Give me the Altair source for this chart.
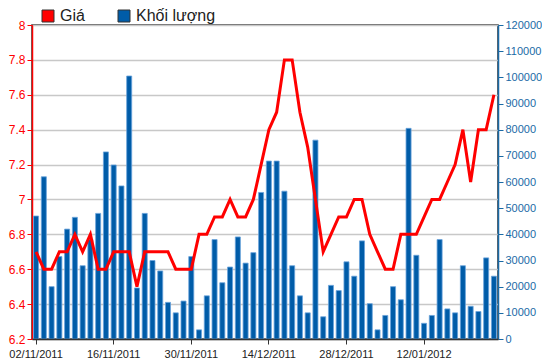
import altair as alt
import pandas as pd

dates = [
    "02/11/2011", "03/11/2011", "04/11/2011", "07/11/2011", "08/11/2011",
    "09/11/2011", "10/11/2011", "11/11/2011", "14/11/2011", "15/11/2011",
    "16/11/2011", "17/11/2011", "18/11/2011", "21/11/2011", "22/11/2011",
    "23/11/2011", "24/11/2011", "25/11/2011", "28/11/2011", "29/11/2011",
    "30/11/2011", "01/12/2011", "02/12/2011", "05/12/2011", "06/12/2011",
    "07/12/2011", "08/12/2011", "09/12/2011", "12/12/2011", "13/12/2011",
    "14/12/2011", "15/12/2011", "16/12/2011", "19/12/2011", "20/12/2011",
    "21/12/2011", "22/12/2011", "23/12/2011", "26/12/2011", "27/12/2011",
    "28/12/2011", "29/12/2011", "30/12/2011", "03/01/2012", "04/01/2012",
    "05/01/2012", "06/01/2012", "09/01/2012", "10/01/2012", "11/01/2012",
    "12/01/2012", "13/01/2012", "16/01/2012", "17/01/2012", "18/01/2012",
    "19/01/2012", "20/01/2012", "30/01/2012", "31/01/2012", "01/02/2012",
]

price = [
    6.7, 6.6, 6.6, 6.7, 6.7, 6.8, 6.7, 6.8, 6.6, 6.6,
    6.7, 6.7, 6.7, 6.5, 6.7, 6.7, 6.7, 6.7, 6.6, 6.6,
    6.6, 6.8, 6.8, 6.9, 6.9, 7.0, 6.9, 6.9, 7.0, 7.2,
    7.4, 7.5, 7.8, 7.8, 7.5, 7.3, 7.0, 6.7, 6.8, 6.9,
    6.9, 7.0, 7.0, 6.8, 6.7, 6.6, 6.6, 6.8, 6.8, 6.8,
    6.9, 7.0, 7.0, 7.1, 7.2, 7.4, 7.1, 7.4, 7.4, 7.6,
]

volume = [
    47000, 62000, 20000, 31500, 42000, 46500, 28000, 38000, 48000, 71500,
    66500, 58500, 100500, 19500, 48000, 30000, 26000, 14000, 10000, 14500,
    31500, 3500, 16500, 38000, 21500, 27500, 39000, 29000, 33000, 56000,
    68000, 68000, 56500, 28000, 16500, 10000, 76000, 8500, 20500, 18500,
    29500, 24000, 37500, 13500, 3500, 9000, 20000, 15000, 80500, 32000,
    6000, 9000, 38000, 11500, 10000, 28000, 12500, 10500, 31000, 24000,
]

tick_dates = ["02/11/2011", "16/11/2011", "30/11/2011",
              "14/12/2011", "28/12/2011", "12/01/2012"]
price_ticks = [6.2, 6.4, 6.6, 6.8, 7.0, 7.2, 7.4, 7.6, 7.8, 8.0]
volume_ticks = [0, 10000, 20000, 30000, 40000, 50000, 60000,
                70000, 80000, 90000, 100000, 110000, 120000]
series = ["Giá", "Khối lượng"]
colors = ["#ff0000", "#005ca8"]

RED = "#ff0000"
BLUE = "#1a6aa6"
FONT = "Liberation Sans"

df = pd.DataFrame({
    "date": dates,
    "price": price,
    "volume": volume,
    "series": ["Khối lượng"] * len(dates),
})

x_enc = alt.X(
    "date:N",
    sort=None,
    scale=alt.Scale(paddingInner=0.35, paddingOuter=0.2),
    axis=alt.Axis(
        values=tick_dates, labelAngle=0, title=None,
        domainColor="#333333", domainWidth=1.5,
        tickColor="#333333", tickSize=5, tickWidth=1,
        labelFont=FONT, labelFontSize=11, labelColor="#222222",
        labelPadding=4, zindex=1,
    ),
)

bars = alt.Chart(df).mark_bar(stroke="#6aa3dc", strokeWidth=0.8).encode(
    x=x_enc,
    y=alt.Y(
        "volume:Q",
        scale=alt.Scale(domain=[0, 120000], nice=False),
        axis=alt.Axis(
            orient="right", values=volume_ticks, format="d", title=None,
            grid=False, labelColor=BLUE, tickColor=BLUE, domainColor=BLUE,
            domainWidth=1.5, tickSize=5, labelFont=FONT, labelFontSize=11,
            labelPadding=2,
        ),
    ),
    color=alt.Color(
        "series:N",
        scale=alt.Scale(domain=series, range=colors),
        legend=alt.Legend(
            title=None, orient="none", legendX=8, legendY=-17,
            direction="horizontal", symbolType="square", symbolSize=144,
            symbolStrokeColor="#333333", symbolStrokeWidth=1,
            symbolOpacity=1, labelFont=FONT, labelFontSize=16,
            labelColor="#222222", labelOffset=4, columnPadding=31,
        ),
    ),
)

line = alt.Chart(df).mark_line(color=RED, strokeWidth=3).encode(
    x=x_enc,
    y=alt.Y(
        "price:Q",
        scale=alt.Scale(domain=[6.2, 8.0], nice=False, zero=False),
        axis=alt.Axis(
            orient="left", values=price_ticks, format=".1~f", title=None,
            grid=True, gridColor="#c8c8c8", gridWidth=1.5,
            labelColor=RED, tickColor=RED, domainColor=RED, domainWidth=1.5,
            tickSize=5, labelFont=FONT, labelFontSize=12, labelPadding=2,
        ),
    ),
)

chart = (
    alt.layer(bars, line)
    .resolve_scale(y="independent")
    .properties(
        width=466, height=314,
        autosize=alt.AutoSizeParams(type="none"),
        padding={"left": 24, "top": 17, "right": 44, "bottom": 22},
    )
    .configure_view(stroke="#333333", strokeWidth=1.5)
)

chart.save("out.html", embed_options={"renderer": "svg", "actions": False})
